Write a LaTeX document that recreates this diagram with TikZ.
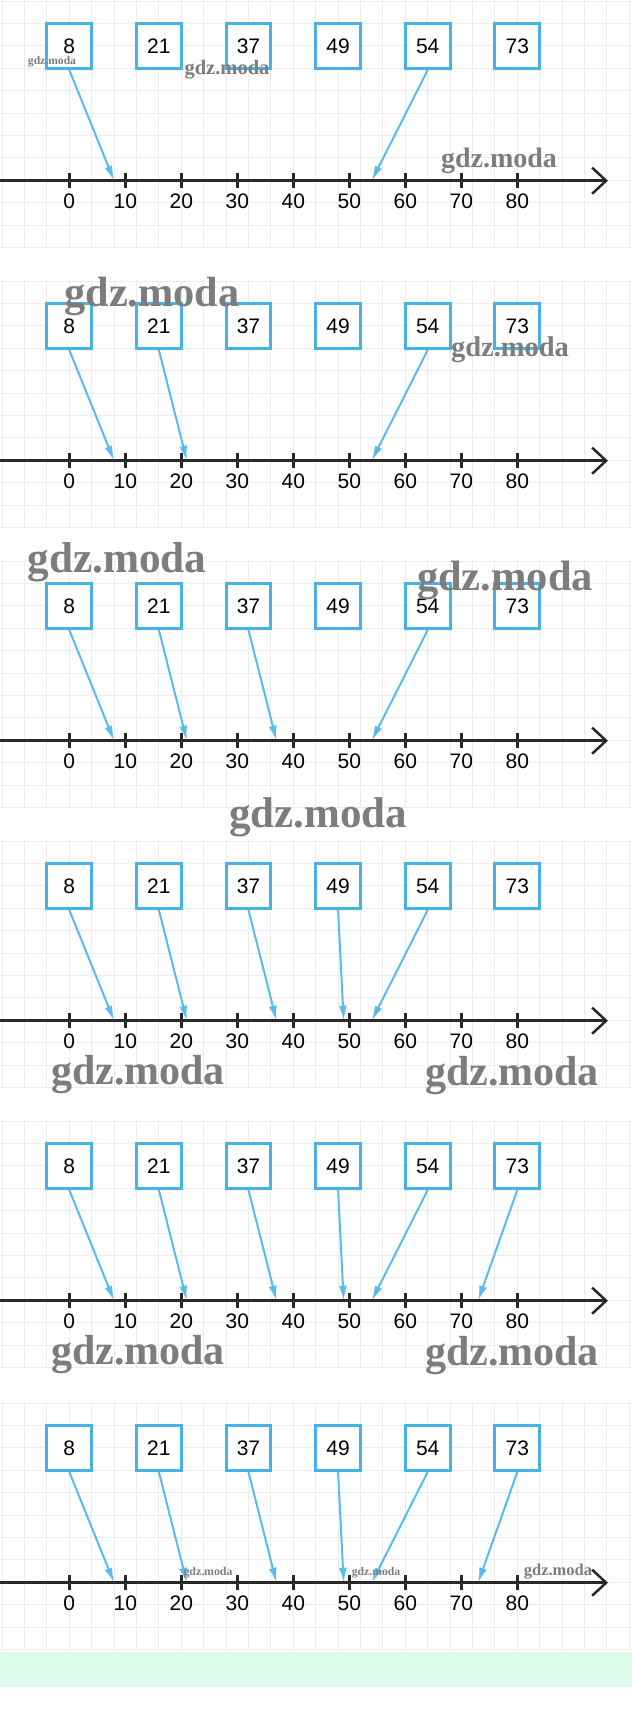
\documentclass[tikz,border=0pt]{standalone}
\usepackage{fontspec}
\setmainfont{Liberation Sans}
\newfontfamily\wmfont{Liberation Serif}
\usetikzlibrary{arrows.meta}
\definecolor{boxblue}{RGB}{70,178,230}
\definecolor{arrowblue}{RGB}{88,188,236}
\definecolor{axisgray}{RGB}{40,40,40}
\definecolor{gridgray}{RGB}{236,236,236}
\definecolor{mint}{RGB}{222,252,236}
\definecolor{wmgray}{RGB}{125,125,125}
\begin{document}
\begin{tikzpicture}[x=1pt,y=-1pt,
  numbox/.style={draw=boxblue,line width=3pt,fill=white,minimum width=44.8pt,minimum height=45pt,inner sep=0pt,font=\fontsize{21}{24}\selectfont},
  link/.style={draw=arrowblue,line width=2pt,-{Latex[length=15pt,width=8pt]}},
  axisline/.style={draw=axisgray,line width=2.5pt,-{Straight Barb[length=14pt,width=26pt,line width=2.5pt]}},
  ticks/.style={draw=axisgray,line width=2.5pt},
  lbl/.style={font=\fontsize{21}{24}\selectfont,inner sep=0pt,text=black},
  gridline/.style={draw=gridgray,line width=1pt},
  wm/.style={text=wmgray,inner sep=0pt,font=\wmfont\bfseries\fontsize{#1}{#1}\selectfont}
]
\useasboundingbox (0,0) rectangle (632,1722);
\fill[white] (0,0) rectangle (632,1722);
% panels
\foreach \p/\oy/\vals in {1/0/{8,54},2/280/{8,21,54},3/560/{8,21,37,54},4/840/{8,21,37,49,54},5/1120/{8,21,37,49,54,73},6/1402/{8,21,37,49,54,73}}{
  \foreach \i in {0,...,28}
    \draw[gridline] ({2.1+22.4*\i},{\oy}) -- ({2.1+22.4*\i},{\oy+248});
  \foreach \j in {0,...,11}
    \draw[gridline] (0,{\oy+1+22.4*\j}) -- (631,{\oy+1+22.4*\j});
  \coordinate (a\p-L) at (0,{\oy+180.7});
  \coordinate (a\p-R) at (608,{\oy+180.7});
  \draw[axisline] (a\p-L) -- (a\p-R);
  \foreach \tv in {0,10,...,80}{
    \draw[ticks] ({69.3+5.6*\tv},{\oy+173}) -- ({69.3+5.6*\tv},{\oy+188});
    \node[lbl] (l\p-\tv) at ({69.3+5.6*\tv},{\oy+201}) {\tv};
  }
  \foreach \v [count=\k from 0] in {8,21,37,49,54,73}
    \node[numbox] (b\p-\v) at ({69.3+89.6*\k},{\oy+46}) {\v};
  \foreach \v in \vals {
    \coordinate (e\p-\v) at ({69.3+5.6*\v},{\oy+180.7});
    \draw[link] (b\p-\v.south) -- (e\p-\v);
  }
}
% green band
\fill[mint] (0,1651.7) rectangle (632,1686.7);
% watermarks
\node[wm=11.6] (w1) at (52,62) {gdz.moda};
\node[wm=20.5] (w2) at (227,70) {gdz.moda};
\node[wm=28] (w3) at (499,161) {gdz.moda};
\node[wm=42.3] (w4) at (152,296) {gdz.moda};
\node[wm=28.5] (w5) at (510,350) {gdz.moda};
\node[wm=43.2] (w6) at (117,562) {gdz.moda};
\node[wm=42.5] (w7) at (505,580) {gdz.moda};
\node[wm=43] (w8) at (318,817) {gdz.moda};
\node[wm=42] (w9) at (138,1075) {gdz.moda};
\node[wm=42] (w10) at (512,1076) {gdz.moda};
\node[wm=42] (w11) at (138,1355) {gdz.moda};
\node[wm=42] (w12) at (512,1356) {gdz.moda};
\node[wm=11.8] (w13) at (208,1573) {gdz.moda};
\node[wm=11.7] (w14) at (376,1573) {gdz.moda};
\node[wm=16.5] (w15) at (558,1572) {gdz.moda};
\end{tikzpicture}
\end{document}
